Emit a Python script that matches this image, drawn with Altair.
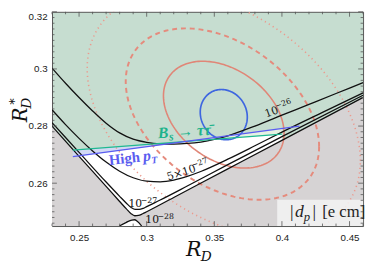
import math
import altair as alt
import pandas as pd

W, H = 318, 219
X_DOMAIN = [0.23, 0.46]
Y_DOMAIN = [0.245, 0.32]
Y_BOTTOM = 0.245

# axis tick positions
x_tick_labels = [0.25, 0.30, 0.35, 0.40, 0.45]
y_tick_labels = [0.26, 0.28, 0.30, 0.32]
x_minor = [0.23, 0.24, 0.26, 0.27, 0.28, 0.29, 0.31, 0.32, 0.33, 0.34, 0.36,
           0.37, 0.38, 0.39, 0.41, 0.42, 0.43, 0.44, 0.46]
y_minor = [0.246, 0.248, 0.250, 0.252, 0.254, 0.256, 0.258, 0.262, 0.264, 0.266,
           0.268, 0.270, 0.272, 0.274, 0.276, 0.278, 0.282, 0.284, 0.286, 0.288,
           0.290, 0.292, 0.294, 0.296, 0.298, 0.302, 0.304, 0.306, 0.308, 0.310,
           0.312, 0.314, 0.316, 0.318]

# |d_p| contour curves
c26_x = [0.23, 0.24, 0.25, 0.26, 0.27, 0.28, 0.29, 0.30, 0.31, 0.32, 0.33, 0.34, 0.35, 0.36, 0.38, 0.40, 0.42, 0.44, 0.46]
c26_y = [0.3003, 0.2950, 0.2900, 0.2853, 0.2810, 0.2776, 0.2754, 0.2743, 0.2738, 0.2737, 0.2739, 0.2744, 0.2753, 0.2766, 0.2800, 0.2838, 0.2876, 0.2914, 0.2952]
c5_x = [0.23, 0.24, 0.25, 0.26, 0.27, 0.28, 0.29, 0.30, 0.31, 0.32, 0.33, 0.34, 0.36, 0.38, 0.40, 0.43, 0.46]
c5_y = [0.2857, 0.2805, 0.2757, 0.2713, 0.2674, 0.2642, 0.2619, 0.2607, 0.2605, 0.2611, 0.2624, 0.2641, 0.2684, 0.2731, 0.2779, 0.2848, 0.2916]
c27_x = [0.23, 0.25, 0.27, 0.28, 0.285, 0.2885, 0.2915, 0.2945, 0.2975, 0.30, 0.31, 0.33, 0.36, 0.40, 0.46]
c27_y = [0.2812, 0.2708, 0.2604, 0.2554, 0.2530, 0.2515, 0.2508, 0.2508, 0.2512, 0.2518, 0.2541, 0.2590, 0.2665, 0.2763, 0.2908]
c28u_x = [0.23, 0.25, 0.27, 0.28, 0.285, 0.2885, 0.2912, 0.2940, 0.2970, 0.30, 0.32, 0.36, 0.40, 0.46]
c28u_y = [0.2800, 0.2694, 0.2589, 0.2536, 0.2510, 0.2493, 0.2486, 0.2487, 0.2493, 0.2500, 0.2550, 0.2650, 0.2750, 0.2900]
c28l_x = [0.2798, 0.2850, 0.2890, 0.2910, 0.2930, 0.2963]
c28l_y = [0.2450, 0.2463, 0.2471, 0.2472, 0.2467, 0.2450]

# constraint lines
teal_x = [0.2454, 0.400]
teal_y = [0.2716, 0.2772]
blue_x = [0.2454, 0.413]
blue_y = [0.2693, 0.2800]

# fit ellipses: centre, half-width, half-height, correlation
ell_cx = [0.357, 0.356, 0.357, 0.357]
ell_cy = [0.2840, 0.2842, 0.2840, 0.2840]
ell_sx = [0.0446, 0.0715, 0.101, 0.0174]
ell_sy = [0.0187, 0.0300, 0.0425, 0.0088]
ell_rho = [-0.35, -0.38, -0.38, -0.10]

XS = alt.Scale(domain=X_DOMAIN, nice=False, zero=False)
YS = alt.Scale(domain=Y_DOMAIN, nice=False, zero=False)
AX = alt.Axis(values=x_tick_labels, format=".2~f", ticks=False, domain=False, grid=False,
              labelFont="Liberation Sans", labelFontSize=10, labelColor="#222", labelPadding=7, title=None)
AY = alt.Axis(values=y_tick_labels, format=".2~f", ticks=False, domain=False, grid=False, labelFlush=True,
              labelFont="Liberation Sans", labelFontSize=10, labelColor="#222", labelPadding=5, title=None)


def X(f="x"):
    return alt.X(f"{f}:Q", scale=XS, axis=AX, title=None)


def Y(f="y"):
    return alt.Y(f"{f}:Q", scale=YS, axis=AY, title=None)


def lin(xs, ys, x):
    return ys[0] + (ys[1] - ys[0]) * (x - xs[0]) / (xs[1] - xs[0])


# crossing of the two constraint lines
st = (teal_y[1] - teal_y[0]) / (teal_x[1] - teal_x[0])
sb = (blue_y[1] - blue_y[0]) / (blue_x[1] - blue_x[0])
xc = teal_x[0] + (teal_y[0] - blue_y[0]) / (sb - st)

layers = []

# white region below both lines
wx = [teal_x[0], xc, teal_x[1]]
wy = [min(lin(teal_x, teal_y, v), lin(blue_x, blue_y, v)) for v in wx]
white_df = pd.DataFrame({"x": wx, "y": wy, "y2": [Y_BOTTOM] * 3})
layers.append(alt.Chart(white_df).mark_area(color="white", opacity=1).encode(x=X(), y=Y(), y2="y2:Q"))

# grey region below the 10^-28 contour
grey_df = pd.DataFrame({"x": c28u_x, "y": c28u_y, "y2": [Y_BOTTOM] * len(c28u_x)})
layers.append(alt.Chart(grey_df).mark_area(color="#d6d3d4", interpolate="monotone").encode(x=X(), y=Y(), y2="y2:Q"))
tri_df = pd.DataFrame({"x": c28l_x, "y": c28l_y, "y2": [Y_BOTTOM] * len(c28l_x)})
layers.append(alt.Chart(tri_df).mark_area(color="white", interpolate="monotone").encode(x=X(), y=Y(), y2="y2:Q"))

# light blue band (high pT only) and pale band (Bs only)
lb_x = [teal_x[0], xc]
lb_df = pd.DataFrame({"x": lb_x, "y": [lin(teal_x, teal_y, v) for v in lb_x],
                      "y2": [lin(blue_x, blue_y, v) for v in lb_x]})
layers.append(alt.Chart(lb_df).mark_area(color="#d2d9f3").encode(x=X(), y=Y(), y2="y2:Q"))
pg_x = [xc, teal_x[1]]
pg_df = pd.DataFrame({"x": pg_x, "y": [lin(blue_x, blue_y, v) for v in pg_x],
                      "y2": [lin(teal_x, teal_y, v) for v in pg_x]})
layers.append(alt.Chart(pg_df).mark_area(color="#e5f1e2").encode(x=X(), y=Y(), y2="y2:Q"))

# ellipses
N = 160
ell_styles = [
    dict(color="#e08677", strokeWidth=1.6),
    dict(color="#e58b7d", strokeWidth=2.0, strokeDash=[5, 4]),
    dict(color="#ec998d", strokeWidth=1.6, strokeDash=[1.2, 3.5]),
    dict(color="#3e66e0", strokeWidth=1.7),
]
for k in [2, 1, 0, 3]:
    rows = []
    for i in range(N + 1):
        t = 2 * math.pi * i / N
        xx = ell_cx[k] + ell_sx[k] * math.cos(t)
        yy = ell_cy[k] + ell_sy[k] * (ell_rho[k] * math.cos(t) + math.sqrt(1 - ell_rho[k] ** 2) * math.sin(t))
        rows.append({"x": xx, "y": yy, "i": i})
    layers.append(alt.Chart(pd.DataFrame(rows)).mark_line(clip=True, **ell_styles[k]).encode(
        x=X(), y=Y(), order="i:Q"))

# contour curves
for cx_, cy_ in [(c26_x, c26_y), (c5_x, c5_y), (c27_x, c27_y), (c28u_x, c28u_y), (c28l_x, c28l_y)]:
    df = pd.DataFrame({"x": cx_, "y": cy_})
    layers.append(alt.Chart(df).mark_line(color="#111", strokeWidth=1.3, interpolate="monotone", clip=True).encode(
        x=X(), y=Y()))

# constraint lines
layers.append(alt.Chart(pd.DataFrame({"x": teal_x, "y": teal_y})).mark_line(color="#1fb991", strokeWidth=1.4).encode(x=X(), y=Y()))
layers.append(alt.Chart(pd.DataFrame({"x": blue_x, "y": blue_y})).mark_line(color="#5a5cf0", strokeWidth=1.4).encode(x=X(), y=Y()))

# legend box
box_df = pd.DataFrame({"x": [0.3965], "x2": [0.46], "y": [0.2542], "y2": [Y_BOTTOM]})
layers.append(alt.Chart(box_df).mark_rect(color="#f3f3f3", opacity=0.85).encode(x=X(), x2="x2:Q", y=Y(), y2="y2:Q"))


def label(x, y, pieces, angle=0, color="#111", font="Liberation Serif"):
    out = []
    for text, dx, dy, size, style, weight in pieces:
        df = pd.DataFrame({"x": [x], "y": [y], "t": [text]})
        out.append(alt.Chart(df).mark_text(
            align="left", baseline="alphabetic", dx=dx, dy=dy, angle=angle, fontSize=size,
            fontStyle=style, fontWeight=weight, color=color, font=font).encode(x=X(), y=Y(), text="t:N"))
    return out


# contour labels
layers += label(0.3885, 0.2830, [("10", 0, 0, 11, "normal", "normal"), ("\u221226", 12.5, -5, 8, "normal", "normal")], angle=340, font="DejaVu Serif")
layers += label(0.3160, 0.2609, [("5\u00d710", 0, 0, 11, "normal", "normal"), ("\u221227", 27.5, -5, 8, "normal", "normal")], angle=342, font="DejaVu Serif")
layers += label(0.2865, 0.2515, [("10", 0, 0, 11, "normal", "normal"), ("\u221227", 12.5, -5, 8, "normal", "normal")], font="DejaVu Serif")
layers += label(0.2990, 0.2459, [("10", 0, 0, 11, "normal", "normal"), ("\u221228", 12.5, -5, 8, "normal", "normal")], font="DejaVu Serif")

# constraint labels
layers += label(0.3086, 0.2757, [("B", 0, 0, 16, "italic", "bold"), ("s", 11, 3, 12, "italic", "bold"),
                                 ("\u2192 \u03c4\u03c4\u0304", 20, 0, 16, "italic", "bold")], angle=356, color="#1db38b")
layers += label(0.2725, 0.2664, [("High", 0, 0, 15, "normal", "bold"), ("p", 35, 0, 16, "italic", "bold"),
                                 ("T", 43, 3, 10, "italic", "bold")], angle=354, color="#5a5df0")

# legend text
layers += label(0.4060, 0.2481, [("|", 0, 0, 18, "normal", "normal"), ("d", 5, 0, 18, "italic", "normal"),
                                 ("p", 14, 4, 13, "italic", "normal"), ("|", 23, 0, 18, "normal", "normal"),
                                 ("[e cm]", 33, 0, 17, "normal", "normal")], color="#222")

# inward frame ticks
FR = "#555"
for vals, major in [(x_tick_labels, True), (x_minor, False)]:
    L = 5 if major else 2.5
    df = pd.DataFrame({"x": vals})
    layers.append(alt.Chart(df).mark_rule(color=FR, strokeWidth=0.8).encode(x=X(), y=alt.value(H), y2=alt.value(H - L)))
    layers.append(alt.Chart(df).mark_rule(color=FR, strokeWidth=0.8).encode(x=X(), y=alt.value(0), y2=alt.value(L)))
for vals, major in [(y_tick_labels, True), (y_minor, False)]:
    L = 5 if major else 2.5
    df = pd.DataFrame({"y": vals})
    layers.append(alt.Chart(df).mark_rule(color=FR, strokeWidth=0.8).encode(y=Y(), x=alt.value(0), x2=alt.value(L)))
    layers.append(alt.Chart(df).mark_rule(color=FR, strokeWidth=0.8).encode(y=Y(), x=alt.value(W), x2=alt.value(W - L)))


# axis titles
def title_piece(text, px, py, size, angle=0):
    return alt.Chart(pd.DataFrame({"t": [text]})).mark_text(
        align="left", baseline="alphabetic", fontSize=size, fontStyle="italic", angle=angle,
        font="DejaVu Serif", color="#111").encode(x=alt.value(px), y=alt.value(py), text="t:N")


layers.append(title_piece("R", 137, 250, 21))
layers.append(title_piece("D", 152, 255, 14))
layers.append(title_piece("R", -26, 113, 20, 270))
layers.append(title_piece("D", -21, 99, 14, 270))
layers.append(title_piece("*", -34, 95, 13, 270))

chart = alt.layer(*layers).properties(
    width=W, height=H,
    padding={"left": 45, "top": 1, "right": 3, "bottom": 40},
    autosize=alt.AutoSizeParams(type="none"),
).configure_view(fill="#c6ddd0", stroke=FR, strokeWidth=1)

chart.save("out.html", embed_options={"renderer": "svg", "actions": False})
